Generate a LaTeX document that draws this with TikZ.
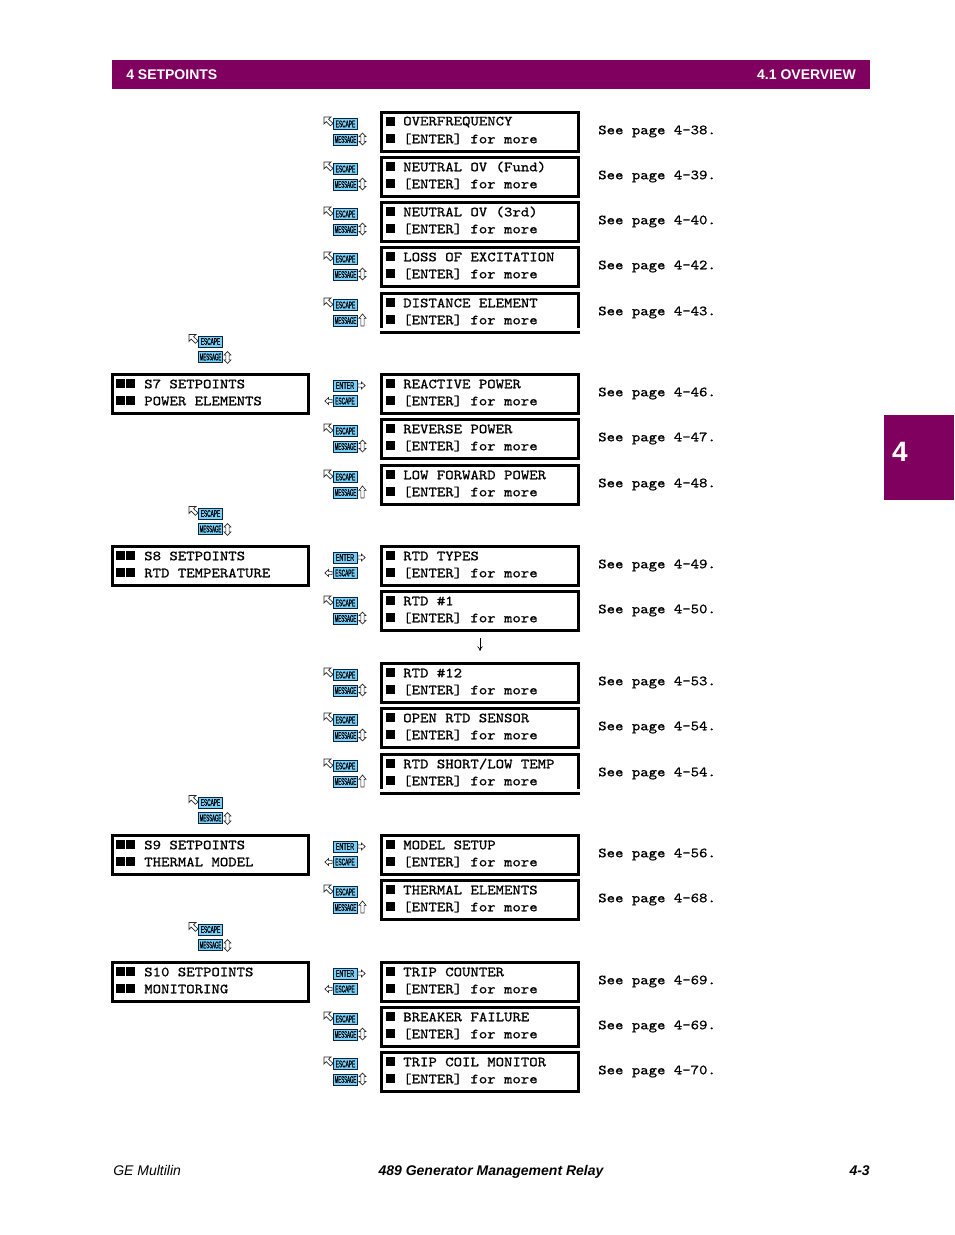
\documentclass[tikz,border=0pt]{standalone}
\usepackage{fontspec}
\usepackage{graphicx}
\usetikzlibrary{arrows.meta}
\setmainfont{Liberation Sans}
\newfontfamily\lcdfont[FakeStretch=1.143,FakeBold=0.9]{Latin Modern Mono}
\newfontfamily\keyfont[FakeBold=1.2]{Liberation Sans}
\definecolor{gepurple}{HTML}{800060}
\definecolor{keyblue}{HTML}{78D0FA}
\definecolor{keyedge}{HTML}{0A2440}
\tikzset{
    lcdframe/.style={draw=black,line width=2.25pt},
    lcdtext/.style={anchor=west,inner sep=0pt,font=\fontsize{10.5pt}{12pt}\lcdfont},
    lcdmark/.style={fill=black},
    keycap/.style={draw=keyedge,fill=keyblue,line width=0.7pt,inner sep=0pt,minimum height=8.2pt,text=black,font=\keyfont},
    hollow/.style={draw=black!85,line width=0.5pt,fill=white,line join=miter},
    pagefoot/.style={inner sep=0pt,font=\fontsize{10.5pt}{12pt}\selectfont},
    pics/nwarrow/.style={code={
        \draw[hollow] (0,0) -- (7,0) -- (4.6,2.2) -- (9,6.4) -- (6.4,8.8) -- (2.2,4.6) -- (0,7) -- cycle;
    }},
    pics/updown/.style={code={
        \draw[hollow] (0,-6) -- (3.4,-2.4) -- (1.6,-2.4) -- (1.6,2.4) -- (3.4,2.4) -- (0,6) -- (-3.4,2.4) -- (-1.6,2.4) -- (-1.6,-2.4) -- (-3.4,-2.4) -- cycle;
    }},
    pics/uponly/.style={code={
        \draw[hollow] (0,-6) -- (3.6,-1.6) -- (1.6,-1.6) -- (1.6,6) -- (-1.6,6) -- (-1.6,-1.6) -- (-3.6,-1.6) -- cycle;
    }},
    pics/sidearrow/.style={code={
        \draw[hollow] (3.6,0) -- (0,3.4) -- (0,1.6) -- (-3.6,1.6) -- (-3.6,-1.6) -- (0,-1.6) -- (0,-3.4) -- cycle;
    }},
    % escape and message keys, y offset from the top of a row
    pics/navkeys/.style={code={
        \node[keycap,minimum width=18pt] (esc) at (345.5,13) {\resizebox{14.6pt}{5pt}{ESCAPE}};
        \node[keycap,minimum width=18pt] (msg) at (345.5,28.5) {\resizebox{16.2pt}{5pt}{MESSAGE}};
    }},
    pics/enterkeys/.style={code={
        \node[keycap,minimum width=18pt] (ent) at (345,12.5) {\resizebox{13.6pt}{5pt}{ENTER}};
        \node[keycap,minimum width=18pt] (esc) at (345,28) {\resizebox{14.6pt}{5pt}{ESCAPE}};
    }},
    pics/lcdrow/.style n args={2}{code={
        \draw[lcdframe] (381.5,1.2) rectangle (578.5,40.3);
        \fill[lcdmark] (385.5,5.5) rectangle (394.5,14.5);
        \fill[lcdmark] (385.5,23) rectangle (394.5,32);
        \node[lcdtext] (top) at (403,11) {#1};
        \node[lcdtext] (low) at (403,28) {[ENTER] for more};
        \node[lcdtext] (see) at (598,20.5) {See page #2.};
    }},
    pics/menurow/.style n args={2}{code={
        \draw[lcdframe] (112.5,1.2) rectangle (308.5,40.3);
        \fill[lcdmark] (115.5,5.5) rectangle (124.5,14.5);
        \fill[lcdmark] (126,5.5) rectangle (135,14.5);
        \fill[lcdmark] (115.5,23) rectangle (124.5,32);
        \fill[lcdmark] (126,23) rectangle (135,32);
        \node[lcdtext] (top) at (144,11) {#1};
        \node[lcdtext] (low) at (144,28) {#2};
    }},
}
\begin{document}
\begin{tikzpicture}[x=0.75pt,y=-0.75pt]
    \useasboundingbox (0,0) rectangle (954,1235);

    % page furniture
    \fill[gepurple] (112,60) rectangle (870,89);
    \fill[gepurple] (884,415) rectangle (954,500);
    \node[pagefoot,anchor=west,text=white,font=\fontsize{10.5pt}{12pt}\bfseries] (chapter) at (126,74.7) {4 SETPOINTS};
    \node[pagefoot,anchor=east,text=white,font=\fontsize{10.5pt}{12pt}\bfseries] (section) at (856,74.7) {4.1 OVERVIEW};
    \node[inner sep=0pt,text=white,font=\fontsize{21pt}{24pt}\bfseries] (tab) at (900,452) {4};
    \node[pagefoot,anchor=west,font=\fontsize{10.5pt}{12pt}\itshape] (maker) at (113,1170) {GE Multilin};
    \node[pagefoot,font=\fontsize{10.5pt}{12pt}\bfseries\itshape] (manual) at (491,1171.5) {489 Generator Management Relay};
    \node[pagefoot,anchor=east,font=\fontsize{10.5pt}{12pt}\bfseries\itshape] (folio) at (870,1170.5) {4-3};

    % lcd rows
    \foreach \y/\nm/\txt/\pg in {
        111/ovf/{OVERFREQUENCY}/4-38,
        156/nfd/{NEUTRAL OV (Fund)}/4-39,
        201/nrd/{NEUTRAL OV (3rd)}/4-40,
        246/lox/{LOSS OF EXCITATION}/4-42,
        292/dst/{DISTANCE ELEMENT}/4-43,
        373/rct/{REACTIVE POWER}/4-46,
        418/rvs/{REVERSE POWER}/4-47,
        464/lfw/{LOW FORWARD POWER}/4-48,
        545/rty/{RTD TYPES}/4-49,
        590/rta/{RTD \#1}/4-50,
        662/rtl/{RTD \#12}/4-53,
        707/opn/{OPEN RTD SENSOR}/4-54,
        753/sht/{RTD SHORT/LOW TEMP}/4-54,
        834/mdl/{MODEL SETUP}/4-56,
        879/thm/{THERMAL ELEMENTS}/4-68,
        961/tct/{TRIP COUNTER}/4-69,
        1006/bkr/{BREAKER FAILURE}/4-69,
        1051/tcm/{TRIP COIL MONITOR}/4-70}{
        \pic (\nm) at (0,\y) {lcdrow={\txt}{\pg}};
    }
    % the two rows with a broken lower edge
    \fill[white] (379,327.5) rectangle (581,330.5);
    \fill[white] (379,788.5) rectangle (581,791.5);

    % left menus
    \pic (pwr) at (0,373) {menurow={S7 SETPOINTS}{POWER ELEMENTS}};
    \pic (tmp) at (0,545) {menurow={S8 SETPOINTS}{RTD TEMPERATURE}};
    \pic (tml) at (0,834) {menurow={S9 SETPOINTS}{THERMAL MODEL}};
    \pic (mon) at (0,961) {menurow={S10 SETPOINTS}{MONITORING}};
    \foreach \y in {373,545,834,961}{
        \pic (top\y) at (-135,\y-44.5) {navkeys};
        \pic at (189,\y-38.5) {nwarrow};
        \pic at (227.5,\y-15.5) {updown};
    }

    % keys
    \foreach \y in {111,156,201,246,292,418,464,590,662,707,753,879,1006,1051}{
        \pic (nav\y) at (0,\y) {navkeys};
        \pic at (324,\y+6) {nwarrow};
    }
    \foreach \y in {111,156,201,246,418,590,662,707,1006,1051}{
        \pic at (362.5,\y+28) {updown};
    }
    \foreach \y in {292,464,753,879}{
        \pic at (362.5,\y+28) {uponly};
    }
    \foreach \y in {373,545,834,961}{
        \pic (ent\y) at (0,\y) {enterkeys};
        \pic at (361.5,\y+12.5) {sidearrow};
        \pic[xscale=-1] at (328.5,\y+28) {sidearrow};
    }

    \coordinate (gapa) at (480,638);
    \coordinate (gapb) at (480,651);
    \draw[-{To[length=3.5pt,width=4pt]},line width=0.5pt] (gapa) -- (gapb);
\end{tikzpicture}
\end{document}
